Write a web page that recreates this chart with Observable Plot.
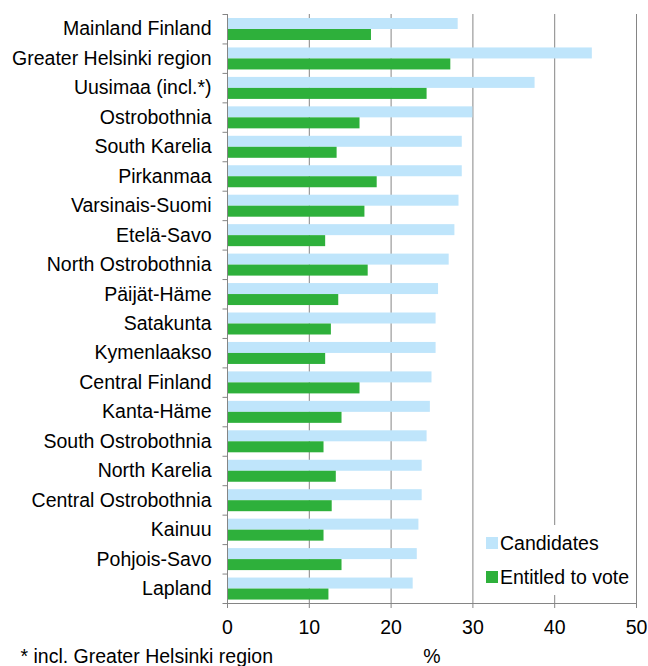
<!DOCTYPE html>
<html>
<head>
<meta charset="utf-8">
<script src="https://cdn.jsdelivr.net/npm/d3@7"></script>
<script src="https://cdn.jsdelivr.net/npm/@observablehq/plot@0.6"></script>
<style>
  body { margin: 0; background: #fff; font-family: "Liberation Sans", Arial, sans-serif; }
  #wrap { position: relative; width: 648px; height: 666px; }
  #legend { position: absolute; left: 474px; top: 525px; width: 160px; height: 70px; background: #fff; }
  .item { position: absolute; left: 12px; height: 20px; display: flex; align-items: center; font-size: 19.5px; color: #000; white-space: nowrap; }
  .sw { width: 12px; height: 12px; margin-right: 2px; }
</style>
</head>
<body>
<div id="wrap"></div>
<script>
const regions = ["Mainland Finland","Greater Helsinki region","Uusimaa (incl.*)","Ostrobothnia","South Karelia","Pirkanmaa","Varsinais-Suomi","Etelä-Savo","North Ostrobothnia","Päijät-Häme","Satakunta","Kymenlaakso","Central Finland","Kanta-Häme","South Ostrobothnia","North Karelia","Central Ostrobothnia","Kainuu","Pohjois-Savo","Lapland"];
const candidates = [28.2,44.6,37.6,30.0,28.7,28.7,28.3,27.8,27.1,25.8,25.5,25.5,25.0,24.8,24.4,23.8,23.8,23.4,23.2,22.7];
const entitled = [17.6,27.3,24.4,16.2,13.4,18.3,16.8,12.0,17.2,13.6,12.7,12.0,16.2,14.0,11.8,13.3,12.8,11.8,14.0,12.4];
const seriesNames = ["Candidates","Entitled to vote"];
const seriesColors = ["#bfe5fb","#2eb03b"];
const xTicks = [0,10,20,30,40,50];
const gridTicks = [10,20,30,40,50];
const footnote = "* incl. Greater Helsinki region";
const unitLabel = "%";

const candData = regions.map((r,i)=>({region:r, value:candidates[i]}));
const entData = regions.map((r,i)=>({region:r, value:entitled[i]}));
const gray = "#858585";
const H = 666, mTop = 14, mBottom = 63;
const half = (H - mTop - mBottom) / regions.length / 2;
const fs = 19.5;

const chart = Plot.plot({
  width: 648, height: H,
  marginLeft: 227, marginRight: 12, marginTop: mTop, marginBottom: mBottom,
  style: {fontFamily: '"Liberation Sans", Arial, sans-serif', fontSize: fs + "px", color: "#000", background: "#fff"},
  x: {domain: [0, 50], round: false},
  y: {domain: regions, padding: 0, round: false, axis: null},
  marks: [
    Plot.ruleX(gridTicks, {stroke: gray, strokeOpacity: 1}),
    Plot.barX(candData, {x: "value", y: "region", fill: seriesColors[0], insetTop: 4, insetBottom: 2*half - 15}),
    Plot.barX(entData, {x: "value", y: "region", fill: seriesColors[1], insetTop: 15, insetBottom: 2*half - 26}),
    Plot.ruleX([0], {stroke: gray, strokeOpacity: 1}),
    Plot.ruleY(regions, {y: d => d, dy: -half, x1: -0.55, x2: 0, stroke: gray, strokeOpacity: 1}),
    Plot.ruleY([regions[regions.length-1]], {y: d => d, dy: half, x1: -0.55, x2: 50, stroke: gray, strokeOpacity: 1}),
    Plot.axisY({tickSize: 0, tickPadding: 16, label: null, fontSize: fs}),
    Plot.axisX({ticks: xTicks, tickSize: 5, tickPadding: 12, label: null, stroke: gray, strokeOpacity: 1, fontSize: fs}),
    Plot.text([unitLabel], {text: d => d, frameAnchor: "bottom", dy: 59, fontSize: fs}),
    Plot.text([footnote], {text: d => d, frameAnchor: "bottom-left", textAnchor: "start", dx: -207, dy: 59, fontSize: fs})
  ]
});
const wrap = document.getElementById("wrap");
wrap.appendChild(chart);

const legend = document.createElement("div");
legend.id = "legend";
const tops = [8, 42];
seriesNames.forEach((name, i) => {
  const item = document.createElement("div");
  item.className = "item";
  item.style.top = tops[i] + "px";
  const sw = document.createElement("span");
  sw.className = "sw";
  sw.style.background = seriesColors[i];
  item.appendChild(sw);
  item.appendChild(document.createTextNode(name));
  legend.appendChild(item);
});
wrap.appendChild(legend);
</script>
</body>
</html>
